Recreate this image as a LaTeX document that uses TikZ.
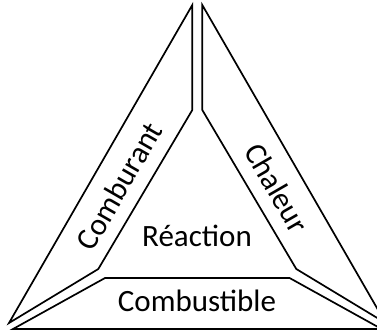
\documentclass[tikz,border=0pt]{standalone}
\usepackage{fontspec}
\setmainfont{Carlito}
\begin{document}
\begin{tikzpicture}[x=1pt,y=-1pt,
  piece/.style={draw=black,line width=1.7pt,line join=miter},
  lab/.style={font=\fontsize{31}{36}\selectfont,inner sep=0pt}]
\useasboundingbox (0,0) rectangle (377,335);
% Comburant (left)
\draw[piece] (192.3,5) -- (192.3,110) -- (98.3,269) -- (9,323) -- cycle;
% Chaleur (right)
\draw[piece] (202.3,5) -- (202.3,110) -- (296.3,269) -- (385.6,323) -- cycle;
% Combustible (bottom)
\draw[piece] (105,278) -- (289.6,278) -- (381.6,329) -- (13,329) -- cycle;
\node[lab,rotate=60] (comb) at (119,186) {Comburant};
\node[lab,rotate=-60] (chal) at (277,188) {Chaleur};
\node[lab] (reac) at (197,236) {Réaction};
\node[lab] (cbst) at (197,301) {Combustible};
\end{tikzpicture}
\end{document}
